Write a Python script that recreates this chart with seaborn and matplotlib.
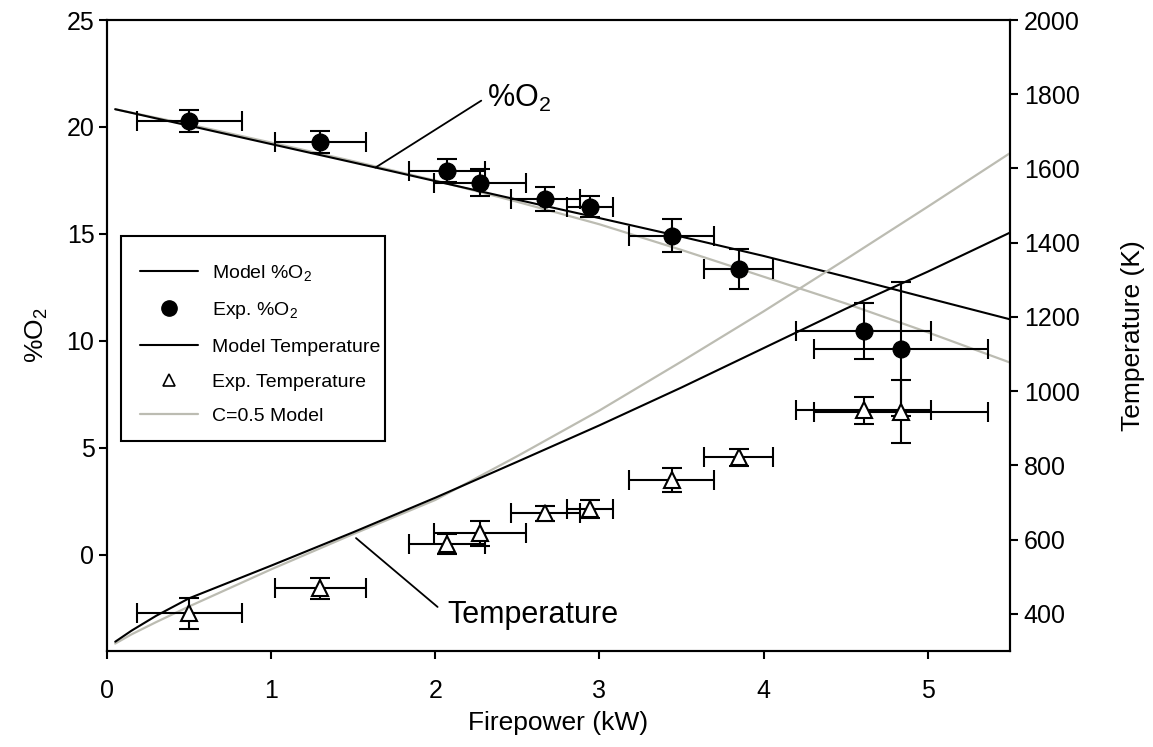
import matplotlib
matplotlib.use("Agg")
import matplotlib.pyplot as plt
from matplotlib.lines import Line2D
from matplotlib.patches import Rectangle
import seaborn as sns

# Model curves (firepower in kW)
power_model = [0.05, 0.15, 0.3, 0.5, 1.0, 1.5, 2.0, 2.5, 3.0, 3.5, 4.0, 4.5, 5.0, 5.5]
o2_model = [20.83, 20.66, 20.40, 20.06, 19.20, 18.34, 17.47, 16.60, 15.74, 14.87, 13.97, 13.00, 12.00, 11.01]
o2_c05 = [20.83, 20.67, 20.43, 20.12, 19.27, 18.40, 17.50, 16.50, 15.45, 14.25, 13.00, 11.75, 10.40, 8.99]
temp_model = [325, 355, 395, 442, 530, 620, 713, 810, 908, 1010, 1116, 1222, 1322, 1427]
temp_c05 = [320, 345, 378, 420, 520, 615, 707, 825, 948, 1080, 1215, 1355, 1497, 1641]

# Experimental measurements
power_exp = [0.50, 1.30, 2.07, 2.27, 2.67, 2.94, 3.44, 3.85, 4.61, 4.84]
power_err = [0.32, 0.275, 0.23, 0.28, 0.21, 0.14, 0.26, 0.21, 0.41, 0.53]
o2_exp = [20.29, 19.29, 17.96, 17.40, 16.62, 16.28, 14.92, 13.36, 10.45, 9.64]
o2_err = [0.52, 0.50, 0.53, 0.63, 0.55, 0.48, 0.77, 0.95, 1.30, 3.13]
temp_exp = [402, 469, 588, 617, 671, 682, 761, 822, 948, 945]
temp_err = [42, 29, 27, 34, 21, 24, 32, 23, 36, 84]

x_ticks = [0, 1, 2, 3, 4, 5]
o2_ticks = [0, 5, 10, 15, 20, 25]
temp_ticks = [400, 600, 800, 1000, 1200, 1400, 1600, 1800, 2000]

sns.set_theme(style="ticks")
plt.rcParams["font.family"] = ["Liberation Sans", "DejaVu Sans"]
plt.rcParams["mathtext.default"] = "regular"
for key in ("text.color", "axes.labelcolor", "xtick.color", "ytick.color", "axes.edgecolor"):
    plt.rcParams[key] = "black"

GREY = "#bcbcb2"

fig = plt.figure(figsize=(11.53, 7.47), dpi=100)
ax = fig.add_axes([0.0928, 0.1285, 0.783, 0.8447])
ax2 = ax.twinx()

sns.lineplot(x=power_model, y=o2_c05, ax=ax, color=GREY, lw=1.6, sort=False, estimator=None)
sns.lineplot(x=power_model, y=o2_model, ax=ax, color="black", lw=1.5, sort=False, estimator=None)
sns.lineplot(x=power_model, y=temp_c05, ax=ax2, color=GREY, lw=1.6, sort=False, estimator=None)
sns.lineplot(x=power_model, y=temp_model, ax=ax2, color="black", lw=1.5, sort=False, estimator=None)

ebkw = dict(ecolor="black", elinewidth=1.5, capsize=7, capthick=1.5, linestyle="none")
ax.errorbar(power_exp, o2_exp, xerr=power_err, yerr=o2_err, fmt="o",
            mfc="black", mec="black", ms=12, **ebkw)
ax2.errorbar(power_exp, temp_exp, xerr=power_err, yerr=temp_err, fmt="^",
             mfc="white", mec="black", mew=1.5, ms=11, **ebkw)

ax.set_xlim(0, 5.5)
ax.set_ylim(-4.5, 25)
ax2.set_ylim(300, 2000)
ax.set_xticks(x_ticks)
ax.set_yticks(o2_ticks)
ax2.set_yticks(temp_ticks)

for a in (ax, ax2):
    for s in a.spines.values():
        s.set_linewidth(1.5)
        s.set_color("black")
    a.tick_params(direction="out", length=6, width=1.5, colors="black", labelsize=18)
ax.tick_params(axis="x", pad=14)
ax.tick_params(axis="y", pad=3)
ax2.tick_params(axis="y", pad=4)
ax.grid(False)
ax2.grid(False)

ax.set_xlabel("Firepower (kW)", fontsize=19, labelpad=6)
ax.set_ylabel("%O$_2$", fontsize=19, labelpad=12)
ax2.set_ylabel("Temperature (K)", fontsize=19, labelpad=30)

# Callout labels for the two curve families
ax.plot([2.28, 1.635], [21.23, 18.10], color="black", lw=1.3)
ax.text(2.316, 20.93, "%O$_2$", fontsize=22, ha="left", va="baseline")
ax.plot([2.014, 1.517], [-2.44, 0.78], color="black", lw=1.3)
ax.text(2.075, -3.18, "Temperature", fontsize=22, ha="left", va="baseline")

handles = [
    Line2D([], [], color="black", lw=1.5),
    Line2D([], [], marker="o", ls="none", color="black", ms=11),
    Line2D([], [], color="black", lw=1.5),
    Line2D([], [], marker="^", ls="none", mfc="white", mec="black", mew=1.2, ms=8),
    Line2D([], [], color=GREY, lw=1.6),
]
labels = ["Model %O$_2$", "Exp. %O$_2$", "Model Temperature", "Exp. Temperature", "C=0.5 Model"]
leg = ax2.legend(handles, labels, loc="upper left", bbox_to_anchor=(0.0365, 0.615),
                 borderaxespad=0, fontsize=14, frameon=False, handlelength=3.0,
                 handletextpad=0.7, labelspacing=0.88, borderpad=0.0)
# Legend frame
ax2.add_patch(Rectangle((0.0155, 0.333), 0.2925, 0.325, transform=ax2.transAxes,
                        fill=True, facecolor="white", edgecolor="black", lw=1.5, zorder=4))
leg.set_zorder(5)

fig.savefig("out.png", dpi=100)
